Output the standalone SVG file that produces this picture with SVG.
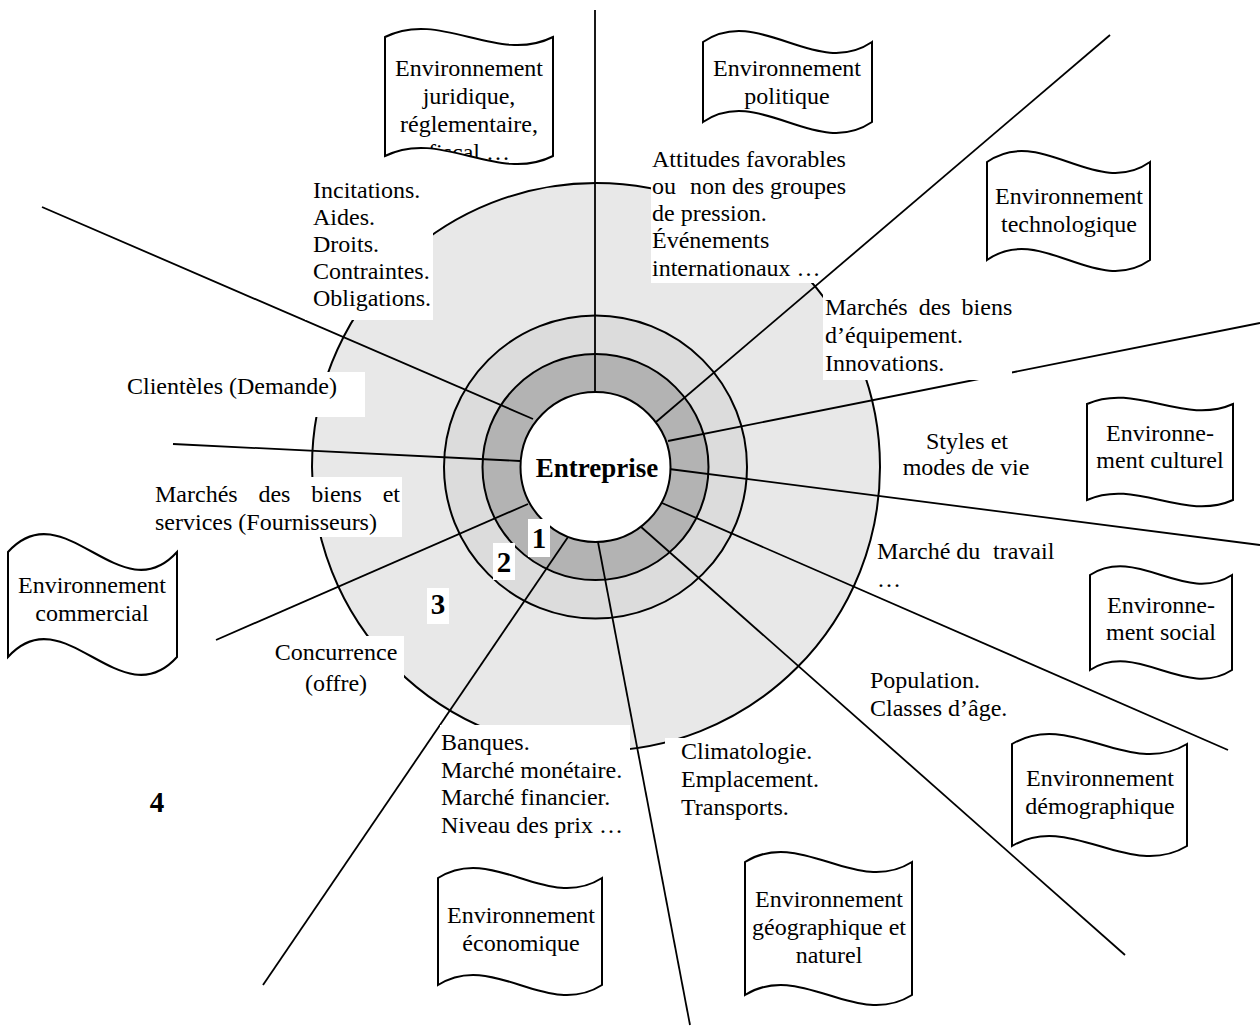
<svg xmlns="http://www.w3.org/2000/svg" width="1260" height="1031" viewBox="0 0 1260 1031">
<style>
.t { font-family: "Liberation Serif", "Times New Roman", serif; font-size: 24px; fill: #000; }
.m { text-anchor: middle; }
.b { font-weight: bold; }
.doc { fill: #fff; stroke: #000; stroke-width: 2; }
.ln { stroke: #000; stroke-width: 1.8; fill: none; }
.bg { fill: #fff; }
.ring { stroke: #000; stroke-width: 2; }
</style>
<defs>
<path id="p1" d="M385,37 C441,9 497,65 553,37 L553,156 C497,184 441,128 385,156 Z"/>
<clipPath id="c1"><use href="#p1"/></clipPath>
</defs>
<rect width="1260" height="1031" fill="#fff"/>
<g id="rings">
<circle class="ring" cx="596" cy="467" r="284" fill="#e8e8e8"/>
<circle class="ring" cx="595.5" cy="467" r="151.5" fill="#dcdcdc"/>
<circle class="ring" cx="595.5" cy="467" r="113" fill="#b3b3b3"/>
</g>
<g id="connectors">
<line class="ln" x1="595" y1="391" x2="595" y2="10"/>
<line class="ln" x1="656" y1="422" x2="1110" y2="35"/>
<line class="ln" x1="668" y1="441" x2="1260" y2="323"/>
<line class="ln" x1="669" y1="469" x2="1260" y2="545"/>
<line class="ln" x1="662" y1="503" x2="1228" y2="750"/>
<line class="ln" x1="640" y1="526" x2="1125" y2="955"/>
<line class="ln" x1="598" y1="542" x2="690" y2="1025"/>
<line class="ln" x1="568" y1="537" x2="263" y2="985"/>
<line class="ln" x1="528" y1="504" x2="216" y2="640"/>
<line class="ln" x1="520" y1="461" x2="173" y2="444"/>
<line class="ln" x1="533" y1="419" x2="42" y2="207"/>
</g>
<g id="entreprise">
<circle class="ring" cx="595.5" cy="467" r="75" fill="#fff"/>
<text class="t m b" x="597" y="477" style="font-size:27px">Entreprise</text>
</g>
<g id="levels">
<rect class="bg" x="528" y="519" width="22" height="38"/>
<text class="t m b" x="539" y="548" style="font-size:29px">1</text>
<rect class="bg" x="493" y="543" width="22" height="37"/>
<text class="t m b" x="504" y="572" style="font-size:29px">2</text>
<rect class="bg" x="427" y="588" width="22" height="36"/>
<text class="t m b" x="438" y="614" style="font-size:29px">3</text>
<text class="t m b" x="157" y="812" style="font-size:29px">4</text>
</g>
<g id="label-juridique">
<rect class="bg" x="305" y="172" width="128" height="148"/>
<text class="t" x="313" y="198">Incitations.</text>
<text class="t" x="313" y="225">Aides.</text>
<text class="t" x="313" y="252">Droits.</text>
<text class="t" x="313" y="279">Contraintes.</text>
<text class="t" x="313" y="306">Obligations.</text>
</g>
<g id="label-politique">
<rect class="bg" x="651" y="142" width="167" height="141"/>
<text class="t" x="652" y="167">Attitudes favorables</text>
<text class="t" x="652" y="194">ou</text>
<text class="t" x="690" y="194">non des groupes</text>
<text class="t" x="652" y="221">de pression.</text>
<text class="t" x="652" y="248">Événements</text>
<text class="t" x="652" y="276">internationaux …</text>
</g>
<g id="label-technologique">
<rect class="bg" x="823" y="292" width="189" height="88"/>
<text class="t" x="825" y="315" word-spacing="5">Marchés des biens</text>
<text class="t" x="825" y="343">d’équipement.</text>
<text class="t" x="825" y="371">Innovations.</text>
</g>
<g id="label-culturel">
<text class="t m" x="967" y="449">Styles et</text>
<text class="t m" x="966" y="475">modes de vie</text>
</g>
<g id="label-social">
<text class="t" x="877" y="559">Marché du</text>
<text class="t" x="993" y="559">travail</text>
<text class="t" x="877" y="587">…</text>
</g>
<g id="label-demographique">
<text class="t" x="870" y="688">Population.</text>
<text class="t" x="870" y="716">Classes d’âge.</text>
</g>
<g id="label-geographique">
<rect class="bg" x="665" y="738" width="145" height="92"/>
<text class="t" x="681" y="759">Climatologie.</text>
<text class="t" x="681" y="787">Emplacement.</text>
<text class="t" x="681" y="815">Transports.</text>
</g>
<g id="label-economique">
<rect class="bg" x="440" y="725" width="190" height="135"/>
<text class="t" x="441" y="750">Banques.</text>
<text class="t" x="441" y="778">Marché monétaire.</text>
<text class="t" x="441" y="805">Marché financier.</text>
<text class="t" x="441" y="833">Niveau des prix …</text>
</g>
<g id="label-concurrence">
<rect class="bg" x="272" y="636" width="132" height="64"/>
<text class="t m" x="336" y="660">Concurrence</text>
<text class="t m" x="336" y="691">(offre)</text>
</g>
<g id="label-fournisseurs">
<rect class="bg" x="150" y="477" width="252" height="60"/>
<text class="t" x="155" y="502" word-spacing="14.8">Marchés des biens et</text>
<text class="t" x="155" y="530">services (Fournisseurs)</text>
</g>
<g id="label-clienteles">
<rect class="bg" x="120" y="372" width="245" height="45"/>
<text class="t" x="127" y="394">Clientèles (Demande)</text>
</g>
<g id="doc-juridique">
<use href="#p1" class="doc"/>
<g clip-path="url(#c1)">
<text class="t m" x="469" y="76">Environnement</text>
<text class="t m" x="469" y="104">juridique,</text>
<text class="t m" x="469" y="132">réglementaire,</text>
<text class="t m" x="469" y="160">fiscal …</text>
</g>
</g>
<g id="doc-politique">
<path class="doc" d="M703,42 C759,4 816,80 872,42 L872,122 C816,160 759,84 703,122 Z"/>
<text class="t m" x="787" y="76">Environnement</text>
<text class="t m" x="787" y="104">politique</text>
</g>
<g id="doc-technologique">
<path class="doc" d="M987,162 C1041,124 1096,200 1150,162 L1150,260 C1096,298 1041,222 987,260 Z"/>
<text class="t m" x="1069" y="204">Environnement</text>
<text class="t m" x="1069" y="232">technologique</text>
</g>
<g id="doc-culturel">
<path class="doc" d="M1087,404 C1136,382 1184,426 1233,404 L1233,500 C1184,522 1136,478 1087,500 Z"/>
<text class="t m" x="1160" y="441">Environne-</text>
<text class="t m" x="1160" y="468">ment culturel</text>
</g>
<g id="doc-social">
<path class="doc" d="M1090,575 C1137,545 1185,605 1232,575 L1232,670 C1185,700 1137,640 1090,670 Z"/>
<text class="t m" x="1161" y="613">Environne-</text>
<text class="t m" x="1161" y="640">ment social</text>
</g>
<g id="doc-demographique">
<path class="doc" d="M1012,744 C1070,709 1129,779 1187,744 L1187,846 C1129,881 1070,811 1012,846 Z"/>
<text class="t m" x="1100" y="786">Environnement</text>
<text class="t m" x="1100" y="814">démographique</text>
</g>
<g id="doc-geographique">
<path class="doc" d="M745,862 C801,827 856,897 912,862 L912,995 C856,1030 801,960 745,995 Z"/>
<text class="t m" x="829" y="907">Environnement</text>
<text class="t m" x="829" y="935">géographique et</text>
<text class="t m" x="829" y="963">naturel</text>
</g>
<g id="doc-economique">
<path class="doc" d="M438,878 C493,843 547,913 602,878 L602,985 C547,1020 493,950 438,985 Z"/>
<text class="t m" x="521" y="923">Environnement</text>
<text class="t m" x="521" y="951">économique</text>
</g>
<g id="doc-commercial">
<path class="doc" d="M8,552 C64,490 121,614 177,552 L177,657 C121,719 64,595 8,657 Z"/>
<text class="t m" x="92" y="593">Environnement</text>
<text class="t m" x="92" y="621">commercial</text>
</g>
</svg>
